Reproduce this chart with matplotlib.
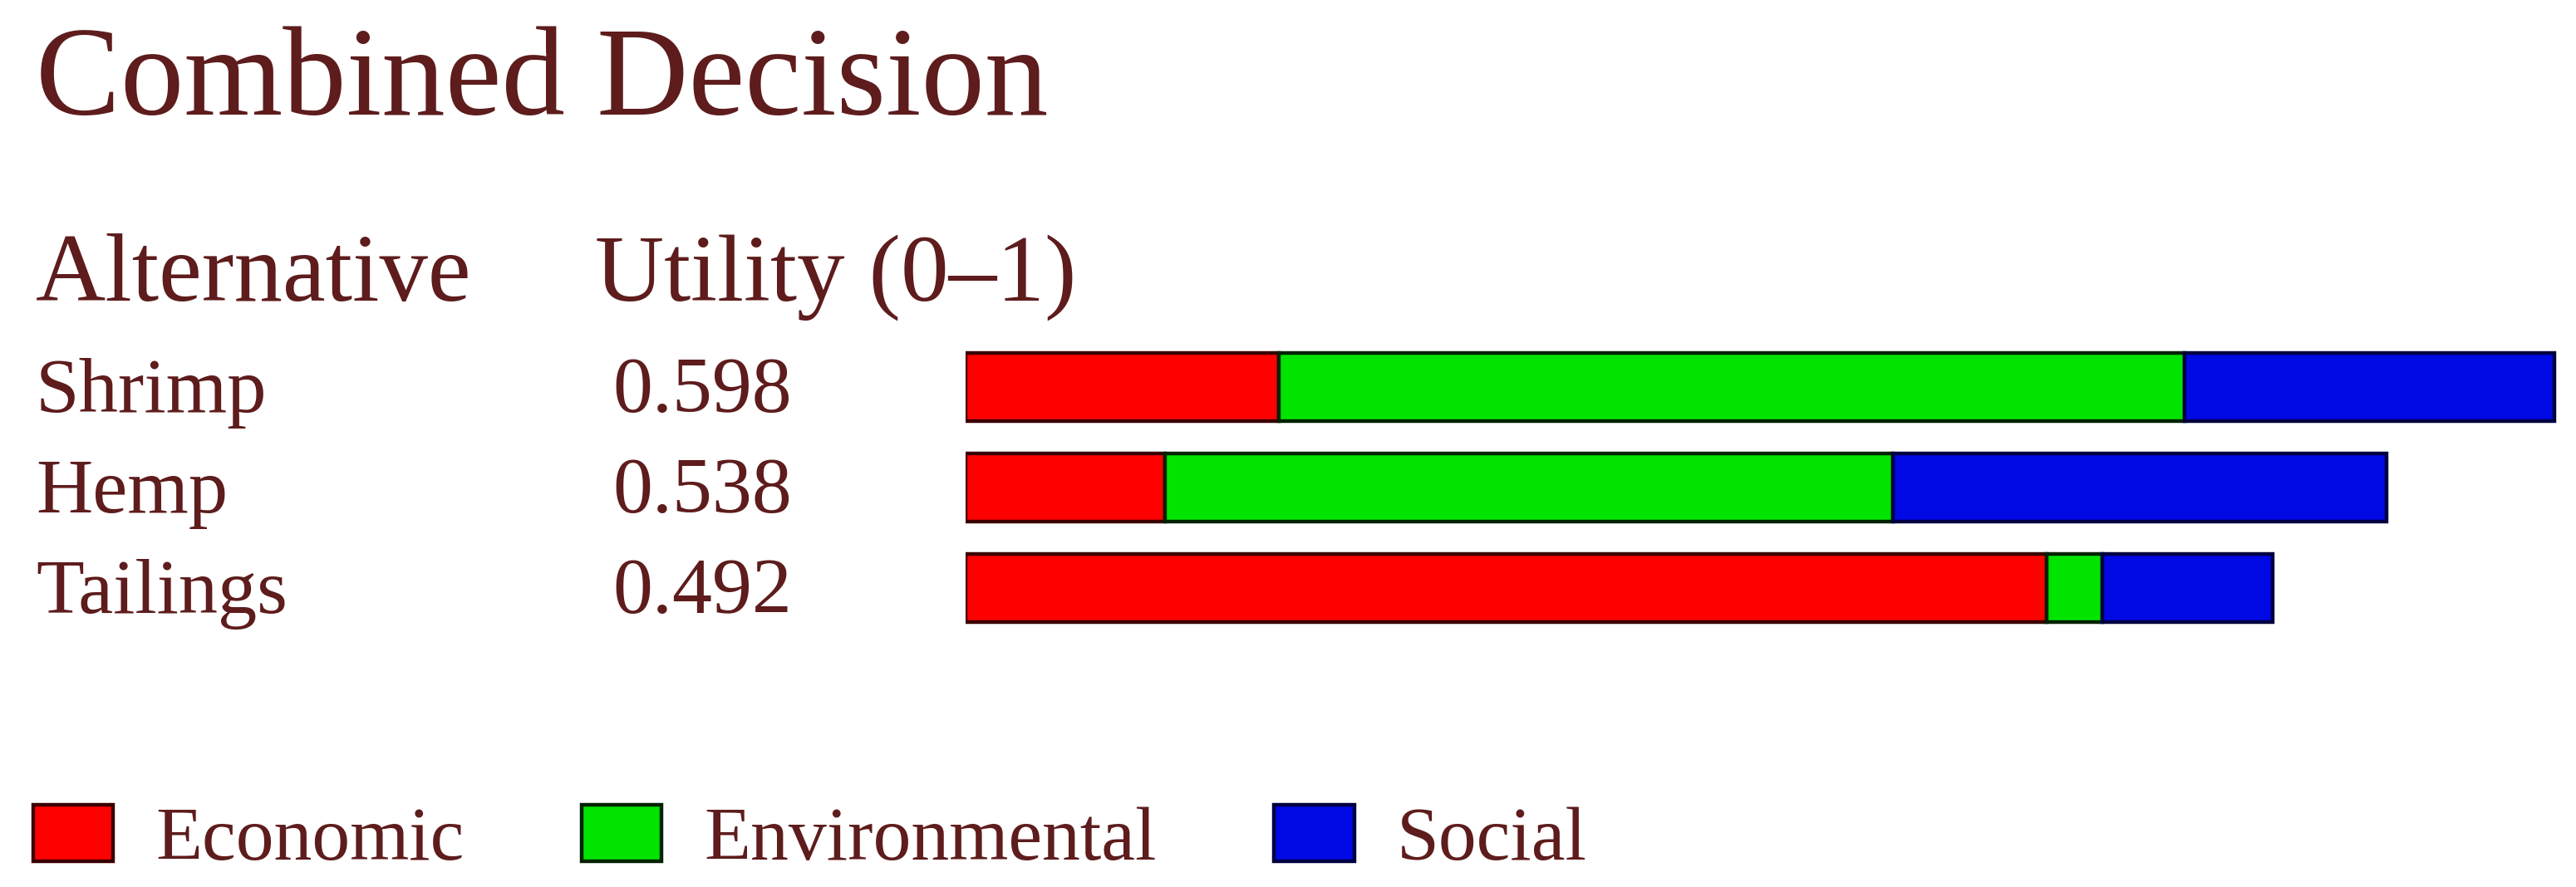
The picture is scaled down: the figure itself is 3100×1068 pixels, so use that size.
import matplotlib
matplotlib.use("Agg")
import matplotlib.pyplot as plt
from matplotlib.patches import Patch
from matplotlib.transforms import blended_transform_factory

# Utility values
alternatives = ["Shrimp", "Hemp", "Tailings"]
utility = [0.598, 0.538, 0.492]
economic = [0.118, 0.075, 0.407]
environmental = [0.341, 0.274, 0.021]
social = [0.139, 0.186, 0.064]

categories = ["Economic", "Environmental", "Social"]
colors = ["#ff0000", "#00e400", "#0008e4"]
edges = ["#3a0000", "#002200", "#000040"]

txt = "#5e1c1c"
plt.rcParams["font.family"] = ["Liberation Serif", "DejaVu Serif"]

fig = plt.figure(figsize=(31, 10.68), dpi=100)
W, H = 3100, 1068

ax = fig.add_axes([1162 / W, 299.5 / H, 1918 / W, 363 / H])
ypos = list(range(len(alternatives)))
left = [0] * len(alternatives)
for vals, c, ec in zip([economic, environmental, social], colors, edges):
    ax.barh(ypos, vals, left=left, height=0.68, color=c, edgecolor=ec, linewidth=3.2)
    left = [a + b for a, b in zip(left, vals)]
ax.set_xlim(0, 0.6)
ax.set_ylim(2.5, -0.5)
ax.axis("off")

# title and column headers
fig.text(43 / W, 1 - 138 / H, "Combined Decision", fontsize=110, color=txt, va="baseline")
fig.text(43 / W, 1 - 362 / H, "Alternative", fontsize=84, color=txt, va="baseline")
fig.text(716 / W, 1 - 362 / H, "Utility (0\u20131)", fontsize=83, color=txt, va="baseline")

# row labels and utility values, aligned to the bars
tr = blended_transform_factory(fig.transFigure, ax.transData)
for i, (name, u) in enumerate(zip(alternatives, utility)):
    ax.text(43 / W, i + 0.25, name, transform=tr, fontsize=68, color=txt, va="baseline")
    ax.text(737 / W, i + 0.25, f"{u:.3f}", transform=tr, fontsize=69, color=txt, va="baseline")

handles = [Patch(facecolor=c, edgecolor=ec, linewidth=3.2) for c, ec in zip(colors, edges)]
leg = fig.legend(handles, categories, loc="lower left", bbox_to_anchor=(40 / W, 14 / H),
                 ncol=3, frameon=False, fontsize=66, handlelength=1.05, handleheight=0.77,
                 handletextpad=0.56, columnspacing=1.54, borderpad=0, borderaxespad=0)
for t in leg.get_texts():
    t.set_color(txt)

fig.savefig("out.png", dpi=100, facecolor="white")
